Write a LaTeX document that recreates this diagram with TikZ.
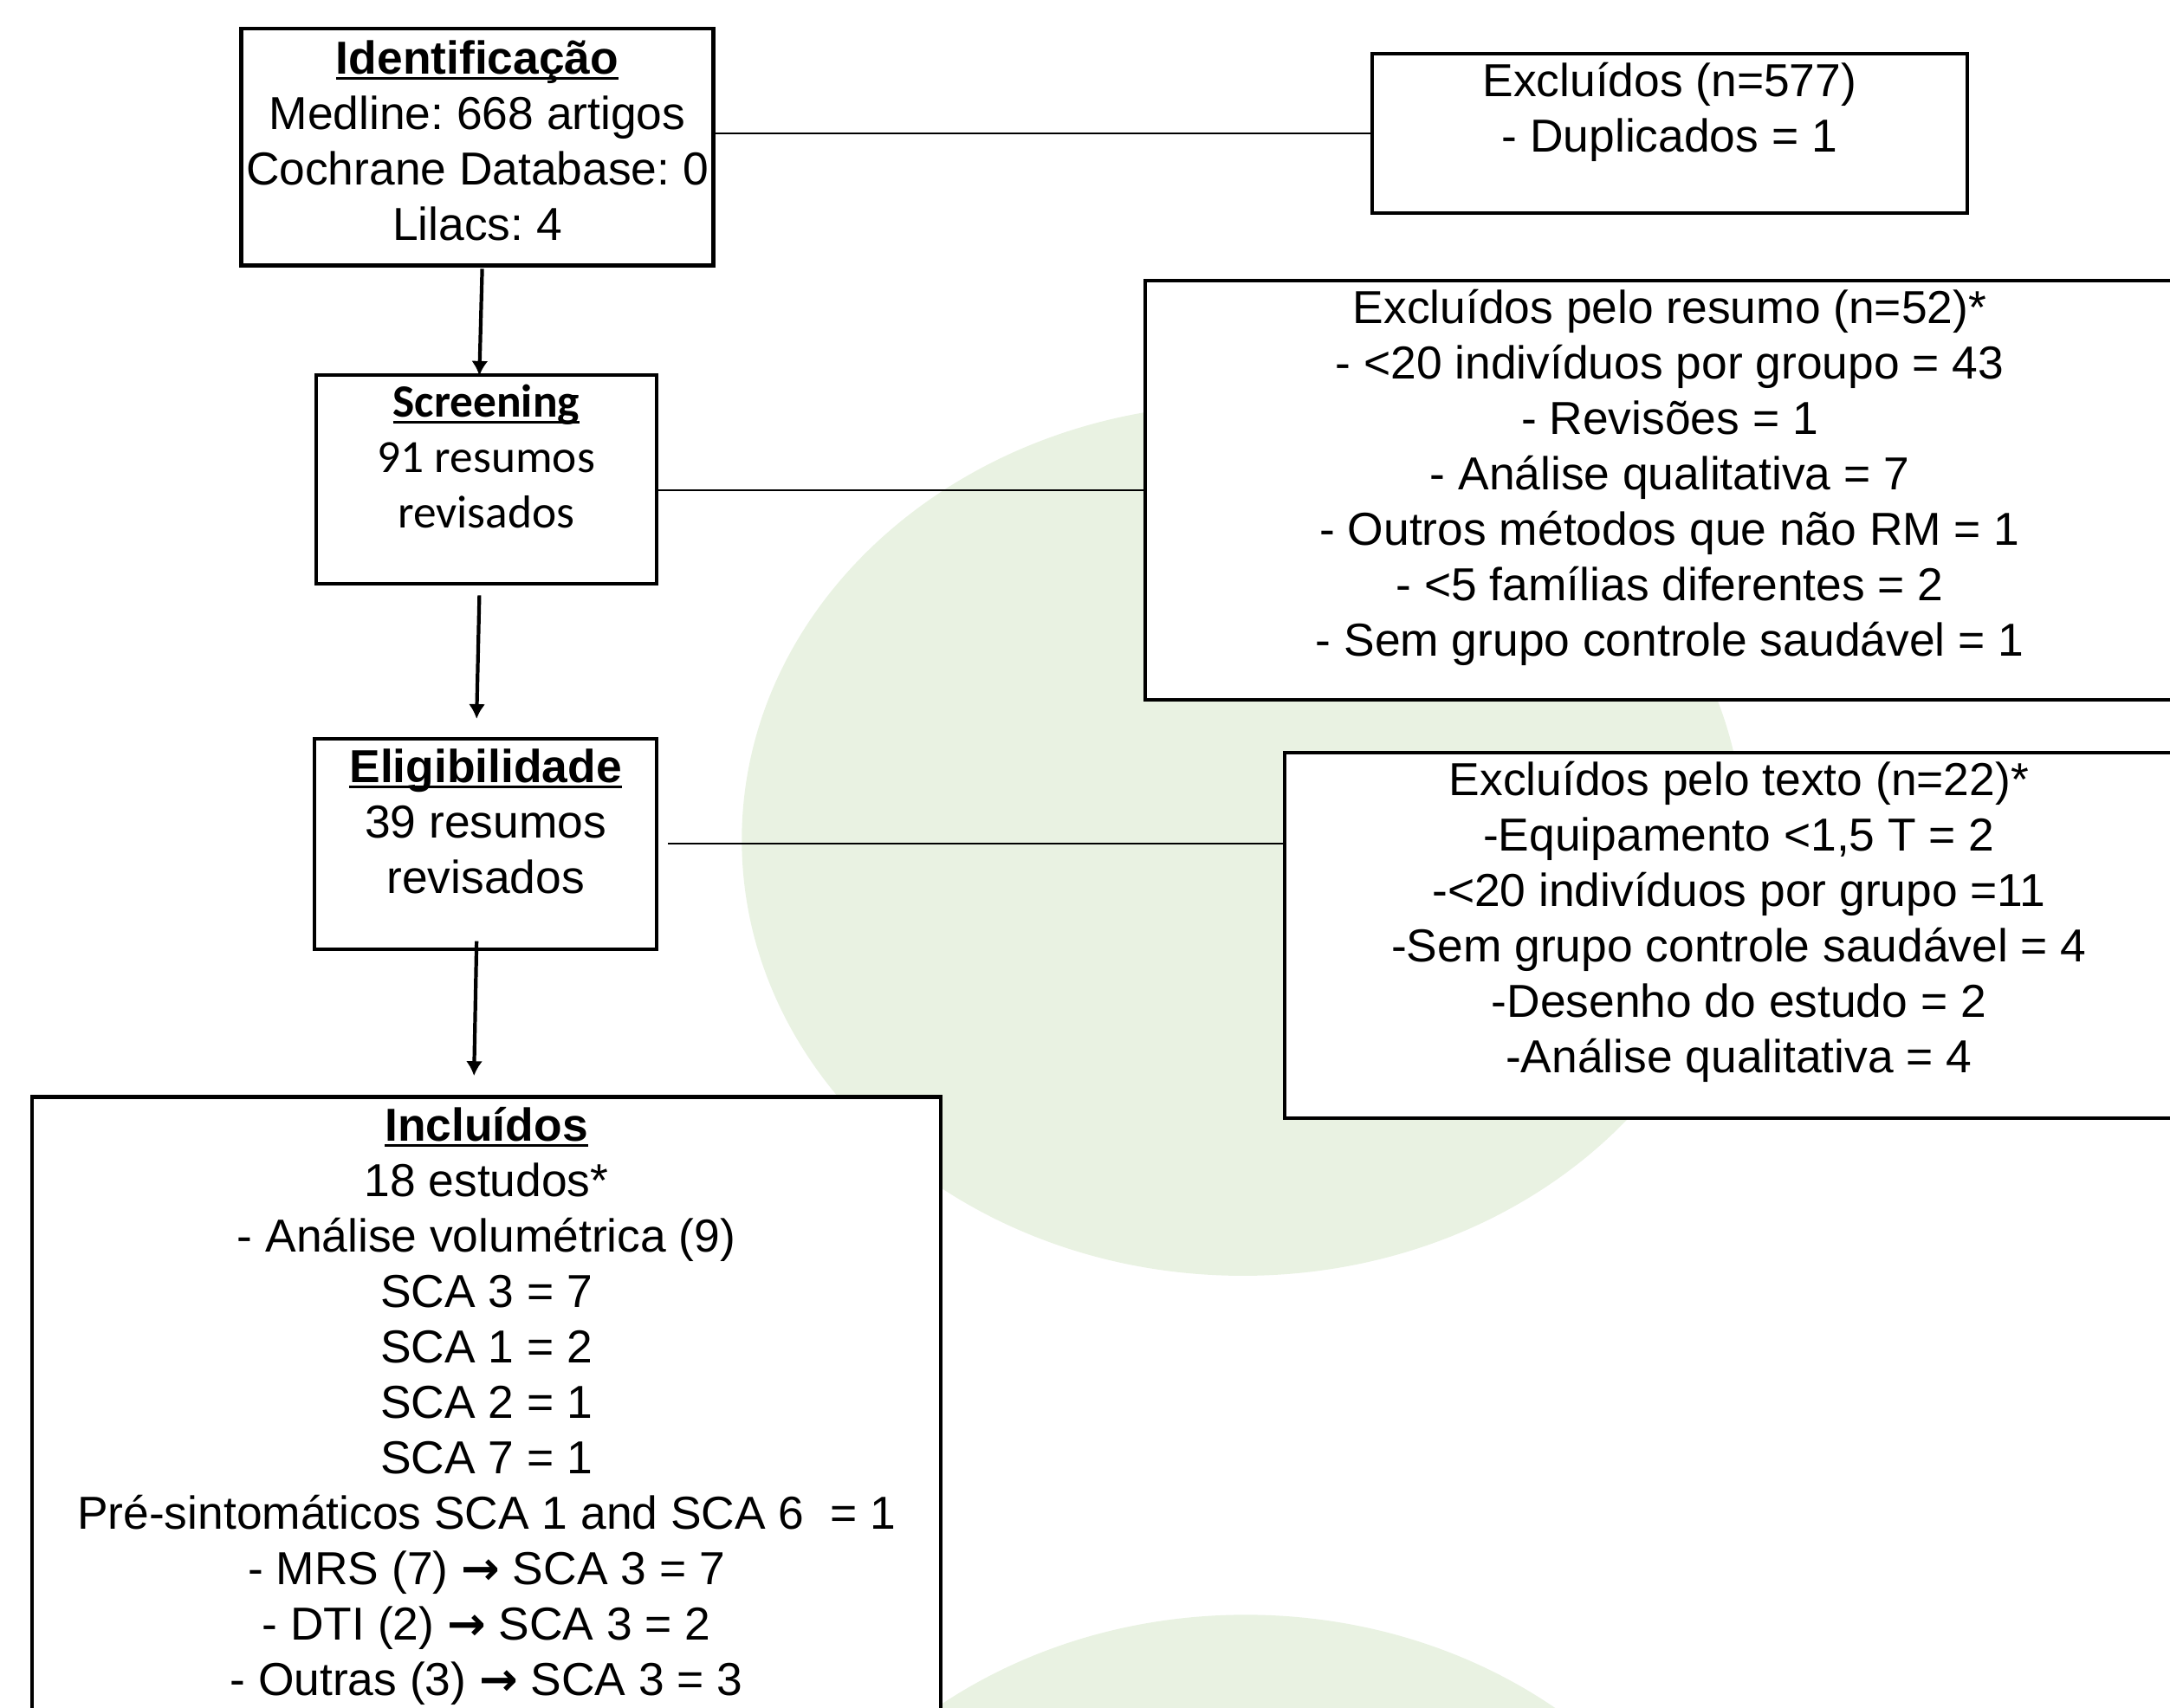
\documentclass[tikz,border=0pt]{standalone}
\usepackage{fontspec}
\setmainfont{Liberation Sans}
\newfontfamily\calibrifont{Carlito}
\newfontfamily\arrowfnt{DejaVu Sans}
\usetikzlibrary{arrows.meta,calc}
\definecolor{bggreen}{RGB}{233,242,226}
\tikzset{
    box/.style={draw, line width=0.75pt, fill=white, anchor=north west, inner sep=0pt},
    txt/.style={align=center, anchor=north, inner sep=0pt, font=\fontsize{9.5}{11.4}\selectfont},
    link/.style={line width=0.35pt},
    flow/.style={line width=0.75pt, -{Latex[length=3pt,width=3.4pt]}}
}
\newcommand{\ulhead}[1]{\setbox0\hbox{\bfseries #1}\rlap{\rule[-1.2pt]{\wd0}{0.5pt}}\box0}
\frenchspacing

\begin{document}
\begin{tikzpicture}[x=0.01cm,y=-0.01cm]
\useasboundingbox (0,0) rectangle (1568,1234);
\clip (0,0) rectangle (1568,1234);
\fill[bggreen] (898,607) ellipse [x radius=362, y radius=315];
\fill[bggreen] (900,1482) ellipse [x radius=362, y radius=315];

\node[box, minimum width=3.41cm, minimum height=1.71cm] (ident) at (173,19.5) {};
\node[box, minimum width=4.30cm, minimum height=1.15cm] (ex1) at (990,37.5) {};
\node[box, minimum width=2.46cm, minimum height=1.51cm] (scr) at (227,269.5) {};
\node[box, minimum width=7.58cm, minimum height=3.03cm] (ex2) at (826,201.5) {};
\node[box, minimum width=2.47cm, minimum height=1.52cm] (elig) at (226,532.5) {};
\node[box, minimum width=6.56cm, minimum height=2.64cm] (ex3) at (927,542.5) {};
\node[box, minimum width=6.56cm, minimum height=5.00cm] (inc) at (22,791.5) {};

\node[txt] (identtxt) at ($(ident.north)+(0,9)$) {\ulhead{Identificação}\\Medline: 668 artigos\\Cochrane Database: 0\\Lilacs: 4};
\node[txt] (ex1txt) at ($(ex1.north)+(0,7)$) {Excluídos (n=577)\\- Duplicados = 1};
\node[txt, font=\calibrifont\fontsize{9.5}{11.4}\selectfont] (scrtxt) at ($(scr.north)+(0,8)$) {\ulhead{Screening}\\91 resumos\\revisados};
\node[txt] (ex2txt) at ($(ex2.north)+(0,7)$) {Excluídos pelo resumo (n=52)*\\- <20 indivíduos por groupo = 43\\- Revisões = 1\\- Análise qualitativa = 7\\- Outros métodos que não RM = 1\\- <5 famílias diferentes = 2\\- Sem grupo controle saudável = 1};
\node[txt] (eligtxt) at ($(elig.north)+(0,8)$) {\ulhead{Eligibilidade}\\39 resumos\\revisados};
\node[txt] (ex3txt) at ($(ex3.north)+(0,7)$) {Excluídos pelo texto (n=22)*\\-Equipamento <1,5 T = 2\\-<20 indivíduos por grupo =11\\-Sem grupo controle saudável = 4\\-Desenho do estudo = 2\\-Análise qualitativa = 4};
\node[txt] (inctxt) at ($(inc.north)+(0,8)$) {\ulhead{Incluídos}\\18 estudos*\\- Análise volumétrica (9)\\SCA 3 = 7\\SCA 1 = 2\\SCA 2 = 1\\SCA 7 = 1\\Pré-sintomáticos SCA 1 and SCA 6~ = 1\\- MRS (7) {\arrowfnt\bfseries →} SCA 3 = 7\\- DTI (2) {\arrowfnt\bfseries →} SCA 3 = 2\\- Outras (3) {\arrowfnt\bfseries →} SCA 3 = 3};

\draw[link] (ident.east |- ex1.west) -- (ex1.west);
\draw[link] (scr.east |- ex2.west) -- (ex2.west);
\draw[link] ($(elig.east)+(7,0)$) -- (ex3.west |- elig.east);
\draw[flow] ($(ident.south)+(3.5,1)$) -- ($(scr.north)+(-5,2)$);
\draw[flow] ($(scr.south)+(-5,7)$) -- ($(elig.north)+(-6.5,-13)$);
\draw[flow] ($(elig.south)+(-6.5,-7)$) -- ($(inc.north)+(-9,-14)$);
\end{tikzpicture}
\end{document}
